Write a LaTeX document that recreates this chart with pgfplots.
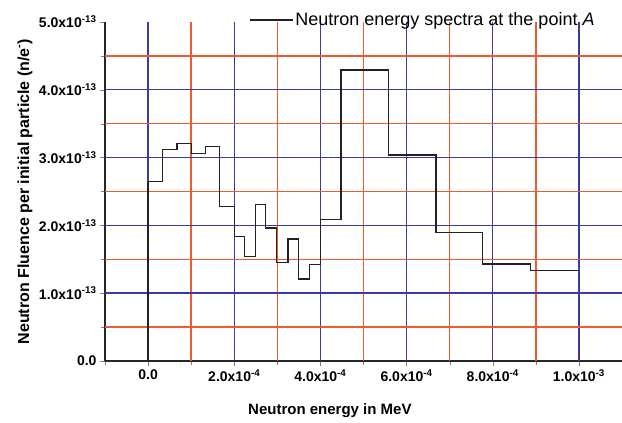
\documentclass[border=0pt]{standalone}
\usepackage{fontspec}
\setmainfont{Liberation Sans}
\usepackage{pgfplots}
\pgfplotsset{compat=1.18}
\definecolor{gridblue}{HTML}{3C3CA0}
\definecolor{gridred}{HTML}{F05A32}
\definecolor{stepink}{HTML}{222222}
\newcommand{\tl}[2]{\textbf{#1x10\textsuperscript{#2}}}

\begin{document}
\begin{tikzpicture}
% x in units of 1e-4 MeV, y in units of 1e-13 n/e-
\begin{axis}[
    at={(0pt,0pt)}, anchor=south west,
    scale only axis, width=517pt, height=339pt,
    axis x line*=bottom, axis y line*=left,
    axis line style={-, line width=1.3pt, draw=black!85},
    xmin=-1, xmax=11, ymin=0, ymax=5,
    xtick={0,2,4,6,8,10},
    xticklabels={\textbf{0.0},\tl{2.0}{-4},\tl{4.0}{-4},\tl{6.0}{-4},\tl{8.0}{-4},\tl{1.0}{-3}},
    minor xtick={-1,1,3,5,7,9},
    ytick={0,1,2,3,4,5},
    yticklabels={\textbf{0.0},\tl{1.0}{-13},\tl{2.0}{-13},\tl{3.0}{-13},\tl{4.0}{-13},\tl{5.0}{-13}},
    minor ytick={0.5,1.5,2.5,3.5,4.5},
    tick align=outside,
    major tick length=5pt, minor tick length=4pt,
    ticklabel style={font=\fontsize{14}{16}\selectfont},
    xlabel={\textbf{Neutron energy in MeV}},
    ylabel={\textbf{Neutron Fluence per initial particle (n/e\textsuperscript{-})}},
    label style={font=\fontsize{15}{17}\selectfont},
    ylabel style={font=\fontsize{16}{18}\selectfont},
    xlabel style={at={(axis description cs:0.435,-0.145)}, anchor=center},
    ylabel style={at={(axis description cs:-0.155,0.5)}, anchor=center},
    legend style={at={(axis description cs:0.957,1.006)}, anchor=east,
        draw=none, fill=none, font=\fontsize{18}{20}\selectfont,
        legend cell align=left},
    legend image code/.code={\draw[stepink, line width=1.2pt] (0pt,0pt) -- (43pt,0pt);},
  ]
  % grid: blue at major ticks, red half-way between
  \pgfplotsinvokeforeach{0,2,4,6,8,10}{\draw[gridblue, line width=1.4pt] (axis cs:#1,0) -- (axis cs:#1,5);}
  \pgfplotsinvokeforeach{1,3,5,7,9}{\draw[gridred, line width=1.4pt] (axis cs:#1,0) -- (axis cs:#1,5);}
  \pgfplotsinvokeforeach{1,2,3,4}{\draw[gridblue, line width=1.4pt] (axis cs:-1,#1) -- (axis cs:11,#1);}
  \pgfplotsinvokeforeach{0.5,1.5,2.5,3.5,4.5}{\draw[gridred, line width=1.4pt] (axis cs:-1,#1) -- (axis cs:11,#1);}
  % histogram of the spectrum (left edge of each bin, value)
  \addplot[const plot mark left, stepink, line width=1.3pt, no marks] coordinates {
    (0,0) (0,2.65) (0.33,3.12) (0.67,3.21) (1.00,3.06)
    (1.33,3.16) (1.66,2.28) (2.00,1.84) (2.24,1.54)
    (2.49,2.31) (2.73,1.96) (2.98,1.45) (3.25,1.80)
    (3.49,1.21) (3.74,1.42) (4.00,2.09) (4.48,4.29)
    (5.58,3.04) (6.68,1.90) (7.77,1.43) (8.88,1.33)
    (10.0,1.33)};
  \addlegendentry{Neutron energy spectra at the point \textit{A}}
\end{axis}
\pgfresetboundingbox
\path[use as bounding box] (-105pt,-62pt) rectangle (517pt,361pt);
\end{tikzpicture}
\end{document}
